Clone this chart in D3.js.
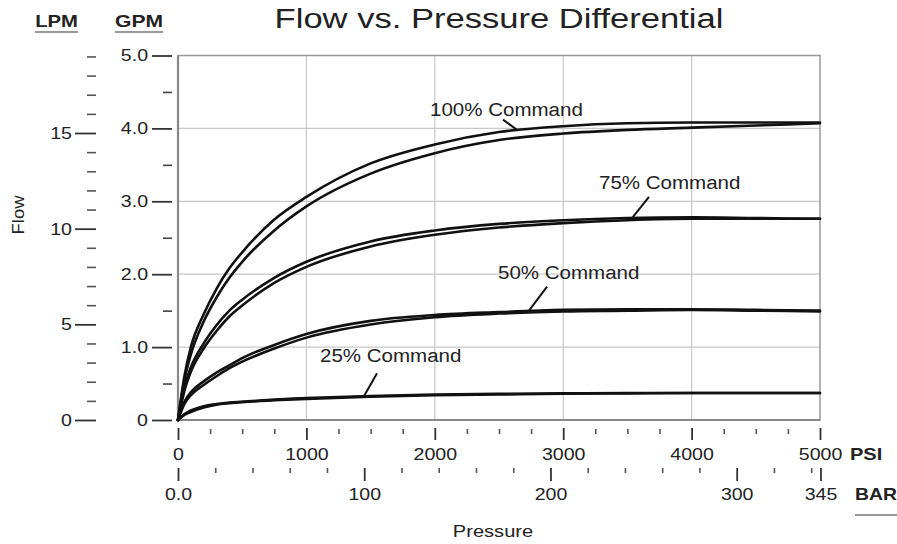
<!DOCTYPE html>
<html>
<head>
<meta charset="utf-8">
<script src="https://cdn.jsdelivr.net/npm/d3@7"></script>
<style>
  html, body { margin: 0; padding: 0; background: #fff; }
  svg { display: block; }
  text { font-family: "Liberation Sans", Arial, Helvetica, sans-serif; fill: #222; }
</style>
</head>
<body>
<svg id="chart" width="897" height="544"></svg>
<script>
// ---------- DATA ----------
const pressurePsi = [0, 50, 100, 200, 300, 400, 500, 750, 1000, 1500, 2000, 2500, 3000, 3500, 4000, 4500, 5000];

const cmd100Upper = [0, 0.60, 1.00, 1.45, 1.80, 2.08, 2.30, 2.75, 3.06, 3.52, 3.78, 3.95, 4.03, 4.07, 4.08, 4.08, 4.08];
const cmd100Lower = [0, 0.55, 0.90, 1.35, 1.68, 1.95, 2.17, 2.60, 2.93, 3.38, 3.66, 3.84, 3.93, 3.98, 4.01, 4.04, 4.07];
const cmd75Upper  = [0, 0.45, 0.72, 1.05, 1.30, 1.50, 1.65, 1.95, 2.17, 2.45, 2.60, 2.69, 2.74, 2.77, 2.78, 2.77, 2.76];
const cmd75Lower  = [0, 0.40, 0.66, 0.98, 1.22, 1.42, 1.57, 1.88, 2.10, 2.38, 2.54, 2.64, 2.70, 2.74, 2.76, 2.76, 2.76];
const cmd50Upper  = [0, 0.25, 0.38, 0.53, 0.65, 0.75, 0.85, 1.03, 1.18, 1.36, 1.44, 1.48, 1.51, 1.52, 1.52, 1.51, 1.50];
const cmd50Lower  = [0, 0.22, 0.34, 0.48, 0.60, 0.71, 0.80, 0.98, 1.13, 1.31, 1.41, 1.46, 1.49, 1.50, 1.51, 1.50, 1.49];
const cmd25Upper  = [0, 0.08, 0.13, 0.19, 0.22, 0.24, 0.25, 0.28, 0.30, 0.33, 0.35, 0.36, 0.365, 0.37, 0.37, 0.37, 0.37];
const cmd25Lower  = [0, 0.07, 0.11, 0.17, 0.21, 0.23, 0.245, 0.27, 0.29, 0.32, 0.34, 0.35, 0.36, 0.365, 0.37, 0.37, 0.37];

const commandLabels = ["100% Command", "75% Command", "50% Command", "25% Command"];
// annotation anchors in data units: [label psi, label gpm, leader start psi, gpm, leader end psi, gpm]
const labelAnchors = [
  [1963, 4.17, 2531, 4.12, 2648, 3.97],
  [3279, 3.17, 3668, 3.06, 3536, 2.77],
  [2492, 1.94, 2874, 1.83, 2734, 1.50],
  [1106, 0.80, 1550, 0.64, 1449, 0.33]
];

const gpmMajor = [0, 1, 2, 3, 4, 5];
const gpmMajorLabels = ["0", "1.0", "2.0", "3.0", "4.0", "5.0"];
const gpmMinor = [0.5, 1.5, 2.5, 3.5, 4.5];
const lpmMajor = [0, 5, 10, 15];
const lpmMinor = [1, 2, 3, 4, 6, 7, 8, 9, 11, 12, 13, 14, 16, 17, 18, 19];
const psiMajor = [0, 1000, 2000, 3000, 4000, 5000];
const psiMinor = [250, 500, 750, 1250, 1500, 1750, 2250, 2500, 2750, 3250, 3500, 3750, 4250, 4500, 4750];
const barMajor = [0, 100, 200, 300, 345];
const barMajorLabels = ["0.0", "100", "200", "300", "345"];
const barMinor = [20, 40, 60, 80, 120, 140, 160, 180, 220, 240, 260, 280, 320, 340];
const gridPsi = [1000, 2000, 3000, 4000];
const gridGpm = [1, 2, 3, 4];

// ---------- LAYOUT ----------
const pLeft = 178, pRight = 820, pTop = 55.5, pBottom = 420;
const svg = d3.select("#chart");

const x = d3.scaleLinear().domain([0, 5000]).range([pLeft, pRight]);
const xBar = d3.scaleLinear().domain([0, 5000 / 14.5038]).range([pLeft, pRight]);
const y = d3.scaleLinear().domain([0, 5]).range([pBottom, pTop]);
const yLpm = d3.scaleLinear().domain([0, 15]).range([pBottom, 133]);

// horizontal stretch helper (reference type is set wide)
function stretch(sel, factor) {
  sel.each(function () {
    const w = this.getComputedTextLength();
    if (w > 0) {
      d3.select(this).attr("textLength", (w * factor).toFixed(1)).attr("lengthAdjust", "spacingAndGlyphs");
    }
  });
}

// grid
svg.append("g").selectAll("line").data(gridPsi).join("line")
  .attr("x1", d => x(d)).attr("x2", d => x(d)).attr("y1", pTop).attr("y2", pBottom)
  .attr("stroke", "#c8c8c8").attr("stroke-width", 1.2);
svg.append("g").selectAll("line").data(gridGpm).join("line")
  .attr("x1", pLeft).attr("x2", pRight).attr("y1", d => y(d)).attr("y2", d => y(d))
  .attr("stroke", "#c8c8c8").attr("stroke-width", 1.2);

// frame
svg.append("rect").attr("x", pLeft).attr("y", pTop).attr("width", pRight - pLeft).attr("height", pBottom - pTop)
  .attr("fill", "none").attr("stroke", "#999").attr("stroke-width", 1.5);
svg.append("line").attr("x1", pLeft).attr("x2", pLeft).attr("y1", pTop).attr("y2", pBottom)
  .attr("stroke", "#888").attr("stroke-width", 2.2);
svg.append("line").attr("x1", pLeft).attr("x2", pRight).attr("y1", pBottom).attr("y2", pBottom)
  .attr("stroke", "#888").attr("stroke-width", 2);

function styleAxis(g, sw, col) {
  g.select(".domain").remove();
  g.selectAll(".tick line").attr("stroke", col || "#333").attr("stroke-width", sw || 1.6);
  g.selectAll(".tick text").attr("font-size", 17).attr("fill", "#222")
   .attr("font-family", '"Liberation Sans", Arial, sans-serif')
   .call(s => stretch(s, 1.15));
}

// GPM axis
svg.append("g").attr("transform", `translate(172,0)`)
  .call(d3.axisLeft(y).tickValues(gpmMajor).tickSize(20).tickPadding(4).tickFormat((d, i) => gpmMajorLabels[i]))
  .call(g => styleAxis(g, 1.8));
svg.append("g").attr("transform", `translate(172,0)`)
  .call(d3.axisLeft(y).tickValues(gpmMinor).tickSize(9).tickFormat(""))
  .call(g => styleAxis(g, 1.6, "#444"));

// LPM axis
svg.append("g").attr("transform", `translate(96,0)`)
  .call(d3.axisLeft(yLpm).tickValues(lpmMajor).tickSize(21).tickPadding(3).tickFormat(d3.format("d")))
  .call(g => styleAxis(g, 1.8));
svg.append("g").attr("transform", `translate(96,0)`)
  .call(d3.axisLeft(yLpm).tickValues(lpmMinor).tickSize(9).tickFormat(""))
  .call(g => styleAxis(g, 1.6, "#555"));

// PSI axis
svg.append("g").attr("transform", `translate(0,428)`)
  .call(d3.axisBottom(x).tickValues(psiMajor).tickSize(12).tickPadding(8).tickFormat(d3.format("d")))
  .call(g => styleAxis(g, 1.8));
svg.append("g").attr("transform", `translate(0,429)`)
  .call(d3.axisBottom(x).tickValues(psiMinor).tickSize(5).tickFormat(""))
  .call(g => styleAxis(g, 1.6, "#555"));

// BAR axis
svg.append("g").attr("transform", `translate(0,468)`)
  .call(d3.axisBottom(xBar).tickValues(barMajor).tickSize(13).tickPadding(7).tickFormat((d, i) => barMajorLabels[i]))
  .call(g => styleAxis(g, 1.8));
svg.append("g").attr("transform", `translate(0,468)`)
  .call(d3.axisBottom(xBar).tickValues(barMinor).tickSize(5).tickFormat(""))
  .call(g => styleAxis(g, 1.6, "#555"));

// curves
const series = [cmd100Upper, cmd100Lower, cmd75Upper, cmd75Lower, cmd50Upper, cmd50Lower, cmd25Upper, cmd25Lower];
const line = d3.line().x((d, i) => x(pressurePsi[i])).y(d => y(d)).curve(d3.curveMonotoneX);
svg.append("g").selectAll("path").data(series).join("path")
  .attr("d", d => line(d)).attr("fill", "none").attr("stroke", "#111").attr("stroke-width", 2.6)
  .attr("stroke-linejoin", "round").attr("stroke-linecap", "round");

// labels + leaders
const ann = svg.append("g");
labelAnchors.forEach((a, i) => {
  ann.append("text").attr("x", x(a[0])).attr("y", y(a[1])).attr("font-size", 18).text(commandLabels[i])
    .call(s => stretch(s, 1.14));
  ann.append("line").attr("x1", x(a[2])).attr("y1", y(a[3])).attr("x2", x(a[4])).attr("y2", y(a[5]))
    .attr("stroke", "#111").attr("stroke-width", 2);
});

// titles
svg.append("text").attr("x", 499).attr("y", 28).attr("text-anchor", "middle").attr("font-size", 27)
  .text("Flow vs. Pressure Differential").call(s => stretch(s, 1.28));
svg.append("text").attr("x", 56.5).attr("y", 27).attr("text-anchor", "middle").attr("font-size", 17)
  .attr("font-weight", "bold").text("LPM").call(s => stretch(s, 1.19));
svg.append("line").attr("x1", 35).attr("x2", 78).attr("y1", 32).attr("y2", 32).attr("stroke", "#777").attr("stroke-width", 1.6);
svg.append("text").attr("x", 139).attr("y", 27).attr("text-anchor", "middle").attr("font-size", 17)
  .attr("font-weight", "bold").text("GPM").call(s => stretch(s, 1.24));
svg.append("line").attr("x1", 115).attr("x2", 163).attr("y1", 32).attr("y2", 32).attr("stroke", "#777").attr("stroke-width", 1.6);
svg.append("text").attr("transform", "translate(24,215) rotate(-90)").attr("text-anchor", "middle")
  .attr("font-size", 16).text("Flow").call(s => stretch(s, 1.15));
svg.append("text").attr("x", 850).attr("y", 460).attr("font-size", 17).attr("font-weight", "bold").text("PSI")
  .call(s => stretch(s, 1.18));
svg.append("text").attr("x", 855).attr("y", 500).attr("font-size", 17).attr("font-weight", "bold").text("BAR")
  .call(s => stretch(s, 1.14));
svg.append("line").attr("x1", 855).attr("x2", 897).attr("y1", 515).attr("y2", 515).attr("stroke", "#777").attr("stroke-width", 1.6);
svg.append("text").attr("x", 493).attr("y", 537).attr("text-anchor", "middle").attr("font-size", 17).text("Pressure")
  .call(s => stretch(s, 1.18));
</script>
</body>
</html>
